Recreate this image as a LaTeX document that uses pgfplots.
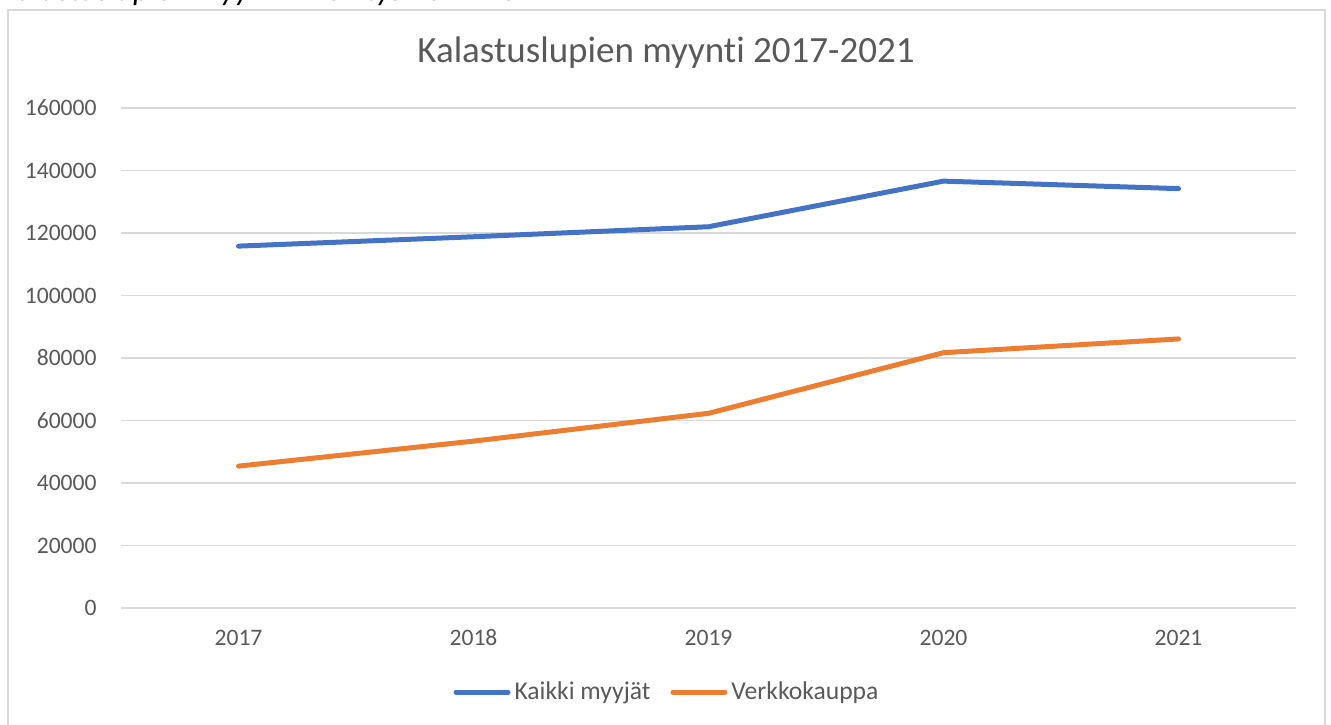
\documentclass[border=0pt]{standalone}
\usepackage{pgfplots}
\pgfplotsset{compat=1.18}
\usepackage{fontspec}
\setmainfont{Carlito}[Ligatures=NoCommon]
\definecolor{xblue}{HTML}{4472C4}
\definecolor{xorange}{HTML}{ED7D31}
\definecolor{xgrid}{HTML}{D9D9D9}
\definecolor{xtext}{HTML}{595959}
\begin{document}
\begin{tikzpicture}
\draw[xgrid, line width=1pt] (-56.5pt,-80pt) rectangle (602pt,299pt);
\begin{axis}[
  scale only axis,
  width=587.5pt, height=250pt,
  xmin=-0.5, xmax=4.5,
  ymin=0, ymax=160000,
  xtick={0,1,2,3,4},
  xticklabels={2017,2018,2019,2020,2021},
  ytick={0,20000,40000,60000,80000,100000,120000,140000,160000},
  scaled y ticks=false,
  /pgf/number format/.cd, fixed, 1000 sep={}, assume math mode=true,
  /pgfplots/.cd,
  ymajorgrids,
  grid style={xgrid, line width=0.8pt},
  axis line style={draw=none},
  major tick length=0pt,
  tick label style={font=\fontsize{11.8pt}{13pt}\selectfont, text=xtext},
  yticklabel style={inner sep=0pt, anchor=east, xshift=-12pt},
  xticklabel style={inner sep=0pt, anchor=base, yshift=-18.5pt},
  legend columns=2,
  legend cell align=left,
  legend style={at={(0.4655,-0.168)}, anchor=center, draw=none, fill=none,
    font=\fontsize{12.8pt}{14pt}\selectfont, text=xtext,
    /tikz/every even column/.append style={column sep=8pt},
    nodes={inner xsep=2pt, inner ysep=1pt}},
  legend image code/.code={\draw[#1, line width=2.5pt, line cap=round] (0pt,0pt) -- (26pt,0pt);},
  every axis plot/.append style={line width=2.5pt, line cap=round, line join=round},
]
\addplot[xblue] coordinates {(0,115800) (1,118800) (2,122000) (3,136600) (4,134200)};
\addlegendentry{Kaikki myyjät}
\addplot[xorange] coordinates {(0,45400) (1,53400) (2,62300) (3,81700) (4,86100)};
\addlegendentry{Verkkokauppa}
\end{axis}
\node[text=xtext, font=\fontsize{18.5pt}{22pt}\selectfont, anchor=center] at (272.5pt,277.5pt) {Kalastuslupien myynti 2017-2021};
\node[text=black, font=\fontsize{16pt}{19pt}\selectfont\itshape, anchor=base west, inner sep=0pt] at (-60pt,303.5pt) {Kalastuslupien myynnin kehitys 2017-2021};
\pgfresetboundingbox
\useasboundingbox (-60.5pt,-58pt) rectangle (605pt,304pt);
\end{tikzpicture}
\end{document}
